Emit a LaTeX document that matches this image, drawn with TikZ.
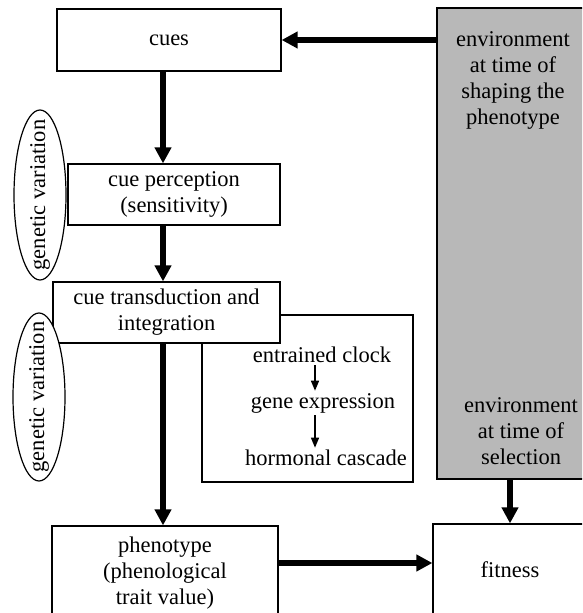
\documentclass[tikz,border=0pt]{standalone}
\usepackage{fontspec}
\setmainfont{Liberation Serif}
\usetikzlibrary{arrows.meta}

\definecolor{envgray}{gray}{0.72}

\begin{document}
\begin{tikzpicture}[x=0.5pt, y=-0.5pt,
  font=\fontsize{11.25pt}{13pt}\selectfont,
  box/.style={draw, line width=0.6pt, fill=white, align=center, inner sep=0pt},
  gvring/.style={draw, line width=0.6pt, fill=white},
  bigarrow/.style={line width=3pt, -{Triangle[width=8pt,length=8pt]}},
  smallarrow/.style={line width=0.7pt, -{Triangle[width=4pt,length=5pt]}},
  step text/.style={inner sep=1pt}]

\useasboundingbox (0,0) rectangle (582,613);
\clip (0,0) rectangle (582,613);

%---------------------------------------------------------------------------------------------------
\node[box, minimum width=112pt, minimum height=31pt] (cues) at (169,40) {cues};
\node[box, fill=envgray, minimum width=79pt, minimum height=235.5pt] (envbox) at (516,243.5) {};
\node[align=center] (envshape) at (513,80) {environment\\at time of\\shaping the\\phenotype};
\node[align=center] (envsel) at (521,431) {environment\\at time of\\selection};

\node[box, minimum width=106pt, minimum height=30.5pt] (percep) at (174,194.5) {cue perception\\(sensitivity)};

\node[draw, line width=0.6pt, minimum width=105.5pt, minimum height=83.5pt] (cascade) at (307.5,398.5) {};
\node[box, minimum width=113.5pt, minimum height=30.5pt] (transd) at (166.5,312.5) {cue transduction and\\integration};

\draw[gvring] (40,195) ellipse (26 and 85) node[rotate=90] (gv1) {genetic variation};
\draw[gvring] (39,397) ellipse (26 and 84) node[rotate=90] (gv2) {genetic variation};

\node[step text] (clock) at (322,355) {entrained clock};
\node[step text] (gene) at (323,403) {gene expression};
\node[step text] (horm) at (326,458) {hormonal cascade};

\node[box, minimum width=113pt, minimum height=47pt] (pheno) at (165,573) {phenotype\\(phenological\\trait value)};
\node[box, minimum width=77pt, minimum height=46pt] (fitness) at (510,570) {fitness};

%---------------------------------------------------------------------------------------------------
\coordinate (spine) at (163,0);
\coordinate (stem) at (315,0);
\coordinate (row) at (0,563);

\draw[bigarrow] (envbox.west |- cues.east) -- (cues.east);
\draw[bigarrow] (cues.south -| spine) -- (percep.north -| spine);
\draw[bigarrow] (percep.south -| spine) -- (transd.north -| spine);
\draw[bigarrow] (transd.south -| spine) -- (pheno.north -| spine);
\draw[bigarrow] (pheno.east |- row) -- (fitness.west |- row);
\draw[bigarrow] (envbox.south -| fitness.north) -- (fitness.north);

\draw[smallarrow] (clock.south -| stem) -- (gene.north -| stem);
\draw[smallarrow] (gene.south -| stem) -- (horm.north -| stem);

\end{tikzpicture}
\end{document}
